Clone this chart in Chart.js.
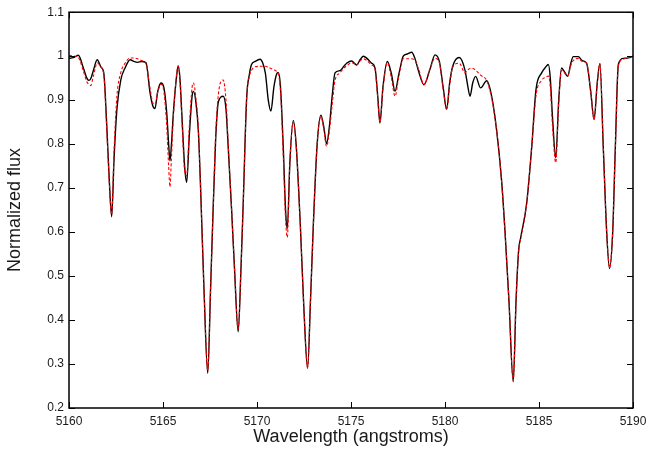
<!DOCTYPE html>
<html>
<head>
<meta charset="utf-8">
<title>Normalized flux</title>
<script src="https://cdn.jsdelivr.net/npm/chart.js@4.4.1/dist/chart.umd.min.js"></script>
<style>
    html, body { margin: 0; padding: 0; background: #fff; }
    #wrap { width: 648px; height: 450px; position: relative; }
</style>
</head>
<body>
<div id="wrap"><canvas id="spectrum"></canvas></div>
<script>
// Wavelength grid (angstroms)
var wave = [
    5160.00, 5160.15, 5160.30, 5160.50, 5160.75, 5160.95, 5161.05, 5161.15, 5161.30, 5161.50,
    5161.70, 5161.85, 5162.00, 5162.14, 5162.27, 5162.40, 5162.55, 5162.75, 5163.00, 5163.25,
    5163.45, 5163.65, 5163.85, 5164.10, 5164.30, 5164.45, 5164.57, 5164.72, 5164.89, 5165.05,
    5165.20, 5165.30, 5165.37, 5165.45, 5165.55, 5165.70, 5165.81, 5165.90, 5166.00, 5166.15,
    5166.26, 5166.40, 5166.55, 5166.62, 5166.75, 5166.88, 5167.00, 5167.18, 5167.38, 5167.53,
    5167.65, 5167.80, 5167.95, 5168.20, 5168.35, 5168.47, 5168.65, 5168.80, 5169.00, 5169.15,
    5169.27, 5169.45, 5169.60, 5169.71, 5169.90, 5170.16, 5170.30, 5170.45, 5170.60, 5170.74,
    5170.90, 5171.05, 5171.13, 5171.25, 5171.40, 5171.52, 5171.61, 5171.75, 5171.93, 5172.08,
    5172.30, 5172.50, 5172.69, 5172.85, 5173.00, 5173.20, 5173.40, 5173.55, 5173.70, 5173.85,
    5174.00, 5174.15, 5174.41, 5174.60, 5174.77, 5175.04, 5175.20, 5175.30, 5175.50, 5175.66,
    5175.85, 5176.10, 5176.28, 5176.42, 5176.54, 5176.70, 5176.93, 5177.15, 5177.34, 5177.55,
    5177.78, 5178.00, 5178.23, 5178.40, 5178.60, 5178.88, 5179.20, 5179.47, 5179.70, 5179.90,
    5180.09, 5180.25, 5180.41, 5180.76, 5181.06, 5181.20, 5181.33, 5181.48, 5181.63, 5181.89,
    5182.22, 5182.48, 5182.75, 5183.01, 5183.19, 5183.40, 5183.63, 5183.78, 5183.92, 5184.03,
    5184.34, 5184.61, 5184.84, 5185.14, 5185.35, 5185.50, 5185.60, 5185.72, 5185.89, 5186.05,
    5186.20, 5186.35, 5186.52, 5186.70, 5186.82, 5187.09, 5187.30, 5187.53, 5187.75, 5187.93,
    5188.10, 5188.24, 5188.42, 5188.60, 5188.75, 5188.92, 5189.06, 5189.22, 5189.49, 5189.75,
    5190.00
];

// Observed spectrum (black solid)
var observed = [
    0.995, 0.996, 0.998, 1.002, 0.975, 0.950, 0.945, 0.948, 0.968, 0.992,
    0.975, 0.962, 0.850, 0.720, 0.635, 0.770, 0.880, 0.945, 0.975, 0.992,
    0.988, 0.986, 0.988, 0.985, 0.920, 0.888, 0.881, 0.920, 0.939, 0.928,
    0.870, 0.800, 0.762, 0.800, 0.870, 0.945, 0.978, 0.950, 0.870, 0.750,
    0.713, 0.820, 0.910, 0.920, 0.895, 0.830, 0.700, 0.470, 0.279, 0.470,
    0.630, 0.810, 0.897, 0.909, 0.880, 0.792, 0.650, 0.520, 0.373, 0.520,
    0.670, 0.905, 0.960, 0.981, 0.988, 0.993, 0.985, 0.960, 0.900, 0.875,
    0.930, 0.960, 0.963, 0.930, 0.790, 0.650, 0.607, 0.760, 0.854, 0.800,
    0.620, 0.420, 0.290, 0.450, 0.620, 0.800, 0.866, 0.840, 0.801, 0.840,
    0.910, 0.962, 0.967, 0.976, 0.984, 0.989, 0.983, 0.980, 0.993, 1.000,
    0.995, 0.984, 0.973, 0.910, 0.848, 0.930, 0.988, 0.960, 0.920, 0.960,
    1.000, 1.005, 1.009, 0.995, 0.965, 0.935, 0.970, 1.003, 0.988, 0.930,
    0.879, 0.940, 0.977, 0.997, 0.969, 0.935, 0.909, 0.940, 0.954, 0.928,
    0.944, 0.909, 0.830, 0.717, 0.603, 0.445, 0.260, 0.445, 0.560, 0.588,
    0.664, 0.792, 0.924, 0.962, 0.975, 0.981, 0.950, 0.860, 0.769, 0.900,
    0.973, 0.965, 0.954, 0.985, 0.999, 0.999, 0.990, 0.984, 0.920, 0.856,
    0.940, 0.983, 0.792, 0.600, 0.517, 0.600, 0.792, 0.981, 0.995, 0.996,
    1.000
];

// Model spectrum (red dashed)
var model = [
    1.002, 1.001, 1.000, 0.997, 0.968, 0.942, 0.936, 0.933, 0.955, 0.985,
    0.975, 0.958, 0.840, 0.715, 0.640, 0.790, 0.910, 0.962, 0.985, 0.996,
    0.996, 0.994, 0.990, 0.982, 0.930, 0.895, 0.890, 0.918, 0.936, 0.918,
    0.840, 0.750, 0.703, 0.770, 0.860, 0.950, 0.978, 0.945, 0.860, 0.740,
    0.728, 0.840, 0.930, 0.939, 0.905, 0.835, 0.700, 0.470, 0.285, 0.470,
    0.630, 0.820, 0.915, 0.946, 0.900, 0.800, 0.650, 0.520, 0.380, 0.520,
    0.670, 0.905, 0.955, 0.968, 0.976, 0.977, 0.977, 0.977, 0.975, 0.972,
    0.969, 0.965, 0.960, 0.920, 0.770, 0.630, 0.588, 0.760, 0.850, 0.800,
    0.620, 0.420, 0.292, 0.450, 0.620, 0.800, 0.862, 0.835, 0.795, 0.830,
    0.890, 0.945, 0.962, 0.972, 0.978, 0.985, 0.982, 0.980, 0.990, 0.994,
    0.990, 0.980, 0.970, 0.905, 0.850, 0.925, 0.985, 0.950, 0.909, 0.955,
    0.994, 0.994, 0.994, 0.990, 0.970, 0.935, 0.972, 0.995, 0.985, 0.925,
    0.879, 0.935, 0.975, 0.984, 0.962, 0.968, 0.972, 0.972, 0.968, 0.957,
    0.944, 0.905, 0.830, 0.715, 0.600, 0.445, 0.262, 0.445, 0.558, 0.585,
    0.664, 0.792, 0.910, 0.945, 0.952, 0.955, 0.930, 0.840, 0.758, 0.895,
    0.968, 0.962, 0.955, 0.980, 0.990, 0.995, 0.988, 0.984, 0.920, 0.856,
    0.940, 0.983, 0.792, 0.600, 0.520, 0.600, 0.792, 0.978, 0.993, 0.997,
    1.000
];

// Axis ticks
var xTicks = [5160, 5165, 5170, 5175, 5180, 5185, 5190];
var xTickLabels = ['5160', '5165', '5170', '5175', '5180', '5185', '5190'];
var yTicks = [0.2, 0.3, 0.4, 0.5, 0.6, 0.7, 0.8, 0.9, 1.0, 1.1];
var yTickLabels = ['0.2', '0.3', '0.4', '0.5', '0.6', '0.7', '0.8', '0.9', '1', '1.1'];

function toPoints(xs, ys) {
    return xs.map(function (x, i) { return { x: x, y: ys[i] }; });
}

// Box frame with inward ticks on all four sides (gnuplot look)
var frameTicks = {
    id: 'frameTicks',
    afterDatasetsDraw: function (chart) {
        var ctx = chart.ctx, a = chart.chartArea;
        var xs = chart.scales.x, ys = chart.scales.y;
        var len = 6;
        ctx.save();
        ctx.strokeStyle = '#000';
        ctx.lineWidth = 1;
        ctx.beginPath();
        xs.ticks.forEach(function (t) {
            var px = Math.round(xs.getPixelForValue(t.value)) + 0.5;
            ctx.moveTo(px, a.bottom); ctx.lineTo(px, a.bottom - len);
            ctx.moveTo(px, a.top); ctx.lineTo(px, a.top + len);
        });
        ys.ticks.forEach(function (t) {
            var py = Math.round(ys.getPixelForValue(t.value)) + 0.5;
            ctx.moveTo(a.left, py); ctx.lineTo(a.left + len, py);
            ctx.moveTo(a.right, py); ctx.lineTo(a.right - len, py);
        });
        ctx.stroke();
        ctx.lineWidth = 1.5;
        ctx.strokeRect(a.left, a.top, a.right - a.left, a.bottom - a.top);
        ctx.restore();
    }
};

Chart.defaults.font.family = '"Liberation Sans", Arial, Helvetica, sans-serif';
Chart.defaults.color = '#1a1a1a';

var ctx = document.getElementById('spectrum').getContext('2d');
var spectrumChart = new Chart(ctx, {
    type: 'line',
    data: {
        datasets: [{
                label: 'Observed',
                data: toPoints(wave, observed),
                borderColor: '#000000',
                borderWidth: 1.4,
                pointRadius: 0,
                fill: false,
                cubicInterpolationMode: 'monotone',
                order: 2
            },
            {
                label: 'Model',
                data: toPoints(wave, model),
                borderColor: '#ff0000',
                borderWidth: 1.1,
                borderDash: [3, 2],
                pointRadius: 0,
                fill: false,
                cubicInterpolationMode: 'monotone',
                order: 1
            }
        ]
    },
    options: {
        responsive: true,
        maintainAspectRatio: false,
        animation: false,
        layout: { padding: { top: 10, right: 15, bottom: 0, left: 0 } },
        plugins: {
            legend: { display: false },
            tooltip: { enabled: false }
        },
        scales: {
            x: {
                type: 'linear',
                min: 5160,
                max: 5190,
                afterBuildTicks: function (scale) {
                    scale.ticks = xTicks.map(function (v) { return { value: v }; });
                },
                afterFit: function (scale) {
                    scale.height = 42;
                    scale.paddingLeft = 0;
                    scale.paddingRight = 0;
                },
                grid: { display: false, drawTicks: false, tickLength: 0 },
                border: { display: false },
                ticks: {
                    autoSkip: false,
                    maxRotation: 0,
                    padding: 6,
                    font: { size: 12 },
                    callback: function (value, index) { return xTickLabels[index]; }
                },
                title: {
                    display: true,
                    text: 'Wavelength (angstroms)',
                    font: { size: 18 },
                    padding: { top: 0, bottom: 2 }
                }
            },
            y: {
                type: 'linear',
                min: 0.2,
                max: 1.1,
                afterBuildTicks: function (scale) {
                    scale.ticks = yTicks.map(function (v) { return { value: v }; });
                },
                afterFit: function (scale) { scale.width = 69; },
                grid: { display: false, drawTicks: false, tickLength: 0 },
                border: { display: false },
                ticks: {
                    autoSkip: false,
                    padding: 5,
                    font: { size: 12 },
                    callback: function (value, index) { return yTickLabels[index]; }
                },
                title: {
                    display: true,
                    text: 'Normalized flux',
                    font: { size: 18 },
                    padding: { top: 4, bottom: 0 }
                }
            }
        }
    },
    plugins: [frameTicks]
});
</script>
</body>
</html>
